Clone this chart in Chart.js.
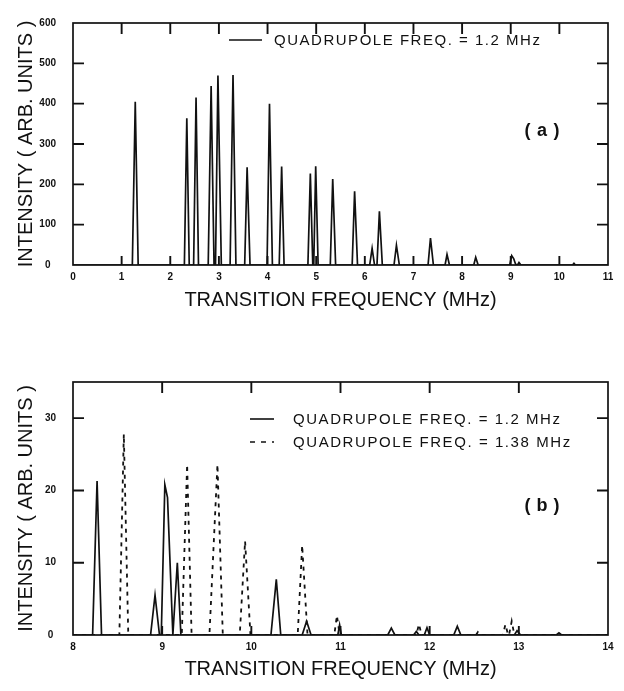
<!DOCTYPE html>
<html><head><meta charset="utf-8">
<script src="https://cdn.jsdelivr.net/npm/chart.js@4.4.1/dist/chart.umd.min.js"></script>
<style>
html,body{margin:0;padding:0;background:#fff;}
#wrap{position:relative;width:624px;height:691px;overflow:hidden;background:#fff;}
canvas{position:absolute;left:0;}
#c1{top:0;}
#c2{top:330px;}
</style></head><body>
<div id="wrap"><canvas id="c1" width="624" height="320"></canvas><canvas id="c2" width="624" height="361"></canvas></div>
<script>
// ---- Panel (a): quadrupole freq 1.2 MHz ----
const freqA = [0,
  1.22,1.28,1.34, 2.29,2.34,2.39, 2.48,2.53,2.58, 2.78,2.84,2.90, 2.93,2.98,3.05,
  3.23,3.29,3.35, 3.53,3.58,3.64, 3.99,4.04,4.10, 4.24,4.29,4.34, 4.83,4.88,4.93,
  4.95,4.99,5.04, 5.29,5.34,5.40, 5.74,5.79,5.85, 6.10,6.15,6.20, 6.25,6.30,6.36,
  6.60,6.65,6.71, 7.30,7.35,7.41, 7.65,7.69,7.74, 8.24,8.28,8.33,
  8.98,9.02,9.06,9.10,9.14,9.17,9.21, 10.27,10.30,10.33, 11];
const intA = [0,
  0,405,0, 0,364,0, 0,415,0, 0,444,0, 0,470,0,
  0,471,0, 0,242,0, 0,400,0, 0,244,0, 0,227,0,
  0,245,0, 0,213,0, 0,183,0, 0,41,0, 0,133,0,
  0,49,0, 0,67,0, 0,26,0, 0,19,0,
  0,23,16,2,0,6,0, 0,4,0, 0];

// ---- Panel (b): solid = 1.2 MHz, dashed = 1.38 MHz ----
const freqB1 = [8,
  8.22,8.27,8.32, 8.87,8.92,8.97, 8.99,9.03,9.06,9.12,9.17,9.21,
  10.22,10.28,10.33, 10.57,10.62,10.67, 10.97,10.99,11.01, 11.53,11.57,11.61,
  11.82,11.85,11.88, 11.94,11.97,12.00, 12.27,12.31,12.35, 12.95,12.98,13.02,
  13.42,13.45,13.48, 14];
const intB1 = [0,
  0,21.3,0, 0,5.5,0, 0,20.8,19,0,10.0,0,
  0,7.7,0, 0,1.9,0, 0,1.4,0, 0,0.95,0,
  0,0.5,0, 0,1.0,0, 0,1.2,0, 0,0.6,0,
  0,0.3,0, 0];
const freqB2 = [8,
  8.52,8.57,8.62, 9.22,9.28,9.33, 9.53,9.62,9.68, 9.87,9.93,9.99,
  10.52,10.57,10.63, 10.93,10.96,10.99, 11.85,11.88,11.91, 12.52,12.54,12.56,
  12.82,12.85,12.88, 12.89,12.92,12.95, 14];
const intB2 = [0,
  0,27.8,0, 0,23.6,0, 0,23.6,0, 0,13.0,0,
  0,12.4,0, 0,2.7,0, 0,1.5,0, 0,0.4,0,
  0,1.45,0, 0,1.9,0, 0];

// ---- tick labels & texts ----
const xTicksA = [0,1,2,3,4,5,6,7,8,9,10,11];
const yTicksA = [0,100,200,300,400,500,600];
const xTicksB = [8,9,10,11,12,13,14];
const yTicksB = [0,10,20,30];
const legendA = ['QUADRUPOLE FREQ. = 1.2 MHz'];
const legendB = ['QUADRUPOLE FREQ. = 1.2 MHz', 'QUADRUPOLE FREQ. = 1.38 MHz'];
const xTitle = 'TRANSITION FREQUENCY (MHz)';
const yTitle = 'INTENSITY ( ARB. UNITS )';
const panelA = '(a)';
const panelB = '(b)';

const INK = '#111';
const pts = (xs, ys) => xs.map((v, i) => ({x: v, y: ys[i]}));

function spacedText(ctx, text, x, y, target, align) {
  ctx.letterSpacing = '0px';
  const w = ctx.measureText(text).width;
  const sp = Math.max(0, (target - w) / (text.length - 1));
  ctx.letterSpacing = sp.toFixed(2) + 'px';
  ctx.textAlign = 'left';
  let x0 = x;
  if (align === 'center') x0 = x - target / 2;
  ctx.fillText(text, x0, y);
  ctx.letterSpacing = '0px';
}

function decorPlugin(cfg) {
  return {
    id: 'decor',
    afterDatasetsDraw(chart) {
      const {ctx, chartArea: a, scales: {x, y}} = chart;
      ctx.save();
      ctx.strokeStyle = INK;
      ctx.lineWidth = 1.7;
      ctx.strokeRect(a.left, a.top, a.right - a.left, a.bottom - a.top);
      ctx.lineWidth = 1.9;
      ctx.beginPath();
      x.ticks.forEach(t => {
        if (t.value <= x.min || t.value >= x.max) return;
        const px = x.getPixelForValue(t.value);
        ctx.moveTo(px, a.bottom); ctx.lineTo(px, a.bottom - 9);
        ctx.moveTo(px, a.top); ctx.lineTo(px, a.top + 11);
      });
      y.ticks.forEach(t => {
        if (t.value <= y.min || t.value >= y.max) return;
        const py = y.getPixelForValue(t.value);
        ctx.moveTo(a.left, py); ctx.lineTo(a.left + 11, py);
        ctx.moveTo(a.right, py); ctx.lineTo(a.right - 11, py);
      });
      ctx.stroke();
      // legend
      ctx.fillStyle = INK;
      ctx.font = '15px "Liberation Sans", Arial, sans-serif';
      ctx.textBaseline = 'middle';
      cfg.legend.forEach((it) => {
        ctx.beginPath();
        ctx.lineWidth = 1.6;
        ctx.setLineDash(it.dash || []);
        ctx.moveTo(it.x0, it.y); ctx.lineTo(it.x1, it.y);
        ctx.stroke();
        ctx.setLineDash([]);
        spacedText(ctx, it.text, it.tx, it.y + 1, it.tw, 'left');
      });
      // panel label
      ctx.font = 'bold 18px "Liberation Sans", Arial, sans-serif';
      spacedText(ctx, cfg.panel.text, cfg.panel.x, cfg.panel.y, 35, 'center');
      ctx.restore();
    }
  };
}

function makeChart(id, opt) {
  const tickFont = {family: '"Liberation Sans", Arial, sans-serif', size: 10, weight: 'bold'};
  const titleFont = {family: '"Liberation Sans", Arial, sans-serif', size: 20};
  return new Chart(document.getElementById(id), {
    type: 'scatter',
    data: {datasets: opt.datasets},
    options: {
      responsive: false, animation: false, devicePixelRatio: 1,
      layout: {padding: {top: opt.padTop, right: 16, left: 0, bottom: 0}},
      plugins: {legend: {display: false}, tooltip: {enabled: false}},
      elements: {point: {radius: 0}, line: {tension: 0}},
      scales: {
        x: {
          type: 'linear', min: opt.xMin, max: opt.xMax,
          grid: {display: false, drawTicks: false}, border: {display: false},
          afterBuildTicks: s => { s.ticks = opt.xTicks.map(v => ({value: v})); },
          afterFit: s => { s.height = opt.xAxisH; },
          ticks: {color: INK, font: tickFont, padding: 6, maxRotation: 0, autoSkip: false},
          title: {display: true, text: xTitle, color: INK, font: titleFont, padding: {top: 0, bottom: opt.xTitlePad}}
        },
        y: {
          type: 'linear', min: 0, max: opt.yMax,
          grid: {display: false, drawTicks: false}, border: {display: false},
          afterBuildTicks: s => { s.ticks = opt.yTicks.map(v => ({value: v})); },
          afterFit: s => { s.width = 73; },
          ticks: {color: INK, font: tickFont, padding: 17, crossAlign: 'center', autoSkip: false},
          title: {display: true, text: yTitle, color: INK, font: titleFont, padding: {top: 14, bottom: 0}}
        }
      }
    },
    plugins: [decorPlugin(opt.decor)]
  });
}

makeChart('c1', {
  padTop: 13, xMin: 0, xMax: 11, yMax: 600, xTicks: xTicksA, yTicks: yTicksA,
  xAxisH: 55, xTitlePad: 8,
  datasets: [{data: pts(freqA, intA), showLine: true, borderColor: INK, borderWidth: 1.7, pointRadius: 0, fill: false}],
  decor: {
    legend: [{x0: 229, x1: 262, y: 40, text: legendA[0], tx: 274, tw: 266}],
    panel: {text: panelA, x: 542, y: 131}
  }
});

makeChart('c2', {
  padTop: 52, xMin: 8, xMax: 14, yMax: 35, xTicks: xTicksB, yTicks: yTicksB,
  xAxisH: 56, xTitlePad: 10,
  datasets: [
    {data: pts(freqB1, intB1), showLine: true, borderColor: INK, borderWidth: 1.7, pointRadius: 0, fill: false},
    {data: pts(freqB2, intB2), showLine: true, borderColor: INK, borderWidth: 1.8, borderDash: [4, 5], pointRadius: 0, fill: false}
  ],
  decor: {
    legend: [
      {x0: 250, x1: 274, y: 89, text: legendB[0], tx: 293, tw: 267},
      {x0: 250, x1: 274, y: 112, text: legendB[1], tx: 293, tw: 277, dash: [5, 6]}
    ],
    panel: {text: panelB, x: 542, y: 176}
  }
});
</script>
</body></html>
